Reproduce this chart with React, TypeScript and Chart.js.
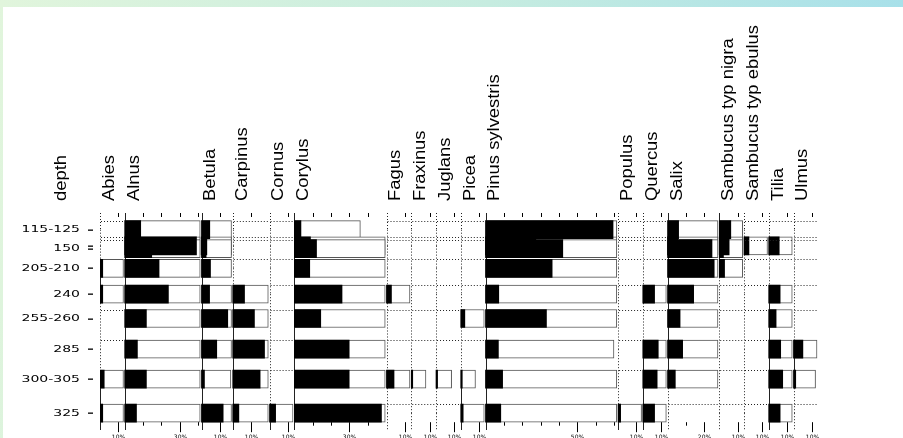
import React, { useEffect, useRef } from "react";
import { Chart, registerables } from "chart.js";
Chart.register(...registerables);

// ---- data ----
// samples (top to bottom); the unlabeled one overlaps the "150" sample
const sampleLabels = ["115-125", "", "150", "205-210", "240", "255-260", "285", "300-305", "325"];
// position of each sample along the core axis (diagram units, 0 = top of diagram)
const samplePos = [16.7, 32.8, 35.6, 55.3, 81.2, 105.5, 136.2, 166.2, 200.2];
const axisLength = 218;

const taxa = [
  "Abies", "Alnus", "Betula", "Carpinus", "Cornus", "Corylus", "Fagus", "Fraxinus", "Juglans",
  "Picea", "Pinus sylvestris", "Populus", "Quercus", "Salix", "Sambucus typ nigra",
  "Sambucus typ ebulus", "Tilia", "Ulmus",
];

// percentages per sample (same order as sampleLabels)
const abies = [0, 0, 0, 1.5, 1.5, 0, 0, 2.3, 1.5];
const alnus = [8.7, 39.1, 14.7, 18.7, 23.8, 11.8, 6.9, 11.8, 6.4];
const betula = [4.5, 2.9, 2.5, 4.9, 4.4, 14.3, 8.3, 1.6, 11.8];
const carpinus = [0, 0, 0, 0, 6.4, 11.8, 17.3, 14.9, 3.3];
const cornus = [0, 0, 0, 0, 0, 0, 0, 0, 3.3];
const corylus = [3.6, 8.8, 12.1, 8.4, 26.0, 14.4, 29.9, 29.9, 47.5];
const fagus = [0, 0, 0, 0, 2.7, 0, 0, 4.1, 0];
const fraxinus = [0, 0, 0, 0, 0, 0, 0, 0.8, 0];
const juglans = [0, 0, 0, 0, 0, 0, 0, 0.85, 0];
const picea = [0, 0, 0, 0, 0, 2.2, 0, 0.8, 1.3];
const pinus = [69.5, 27.4, 42.1, 36.3, 7.2, 33.2, 7.0, 9.3, 8.3];
const populus = [0, 0, 0, 0, 0, 0, 0, 0, 1.4];
const quercus = [0, 0, 0, 0, 6.4, 0, 8.4, 7.8, 6.4];
const salix = [6.0, 5.5, 24.2, 25.4, 14.2, 6.8, 8.2, 4.2, 0];
const sambucusNigra = [6.3, 5.4, 2.3, 2.9, 0, 0, 0, 0, 0];
const sambucusEbulus = [0, 2.7, 0, 0, 0, 0, 0, 0, 0];
const tilia = [0, 5.7, 0, 0, 6.2, 4.0, 6.5, 7.6, 6.2];
const ulmus = [0, 0, 0, 0, 0, 0, 5.1, 1.2, 0];

const values = [
  abies, alnus, betula, carpinus, cornus, corylus, fagus, fraxinus, juglans,
  picea, pinus, populus, quercus, salix, sambucusNigra, sambucusEbulus, tilia, ulmus,
];

// labelled tick of each column's percentage scale
const scaleLabel = [10, 30, 10, 10, 10, 30, 10, 10, 10, 10, 50, 10, 10, 20, 10, 10, 10, 10];

const exaggeration = 10;
const minColumn = 10.75;
const columnGap = 2.75;

// ---- derived layout of columns (in % units along the x scale) ----
const widths = values.map((v) => Math.max(Math.max(...v), minColumn) + columnGap);
const offsets: number[] = [];
widths.reduce((acc, w) => {
  offsets.push(acc);
  return acc + w;
}, 0);
const totalWidth = widths.reduce((a, b) => a + b, 0);

export default function App() {
  const ref = useRef<HTMLCanvasElement | null>(null);

  useEffect(() => {
    const canvas = ref.current;
    if (!canvas) return;

    const black: any[] = [];
    const white: any[] = [];
    values.forEach((vals, t) => {
      const off = offsets[t];
      vals.forEach((v, i) => {
        if (v > 0) {
          white.push({ x: [off, off + Math.min(v * exaggeration, widths[t] - 0.7)], y: samplePos[i] });
          black.push({ x: [off, off + v], y: samplePos[i] });
        }
      });
    });

    const BAR = 18;

    const decor = {
      id: "pollenDecor",
      beforeDatasetsDraw(chart: any) {
        const { ctx, chartArea } = chart;
        const xs = chart.scales.x;
        const yS = chart.scales.y;
        const ys = samplePos.map((p) => yS.getPixelForValue(p));
        const order = ys.map((_, i) => i).sort((a, b) => ys[a] - ys[b]);
        const lineBottom = chartArea.bottom - 1;
        ctx.save();
        ctx.strokeStyle = "#222";
        ctx.lineWidth = 1;
        values.forEach((vals, t) => {
          const x = Math.round(xs.getPixelForValue(offsets[t])) + 0.5;
          const stops: { y: number; p: boolean | null }[] = [
            { y: chartArea.top, p: null },
            ...order.map((i) => ({ y: ys[i], p: vals[i] > 0 })),
            { y: lineBottom, p: null },
          ];
          for (let k = 0; k < stops.length - 1; k++) {
            const a = stops[k];
            const b = stops[k + 1];
            const pa = a.p === null ? b.p : a.p;
            const pb = b.p === null ? a.p : b.p;
            const solid = !!(pa && pb);
            ctx.setLineDash(solid ? [] : [1, 2]);
            ctx.beginPath();
            ctx.moveTo(x, a.y);
            ctx.lineTo(x, b.y);
            ctx.stroke();
          }
        });
        ctx.restore();
      },
      afterDatasetsDraw(chart: any) {
        const { ctx, chartArea } = chart;
        const xs = chart.scales.x;
        const yS = chart.scales.y;
        ctx.save();
        // zero values: dotted line at sample top
        ctx.strokeStyle = "#222";
        ctx.lineWidth = 1;
        ctx.setLineDash([1, 2]);
        values.forEach((vals, t) => {
          const x0 = xs.getPixelForValue(offsets[t]) + 1;
          const x1 = xs.getPixelForValue(offsets[t] + widths[t]) - 1;
          vals.forEach((v, i) => {
            if (v > 0) return;
            const y = Math.round(yS.getPixelForValue(samplePos[i]) - BAR / 2) + 0.5;
            ctx.beginPath();
            ctx.moveTo(x0, y);
            ctx.lineTo(x1, y);
            ctx.stroke();
          });
        });
        ctx.setLineDash([]);

        // ticks top & bottom
        const barsBottom = yS.getPixelForValue(samplePos[samplePos.length - 1]) + BAR / 2;
        ctx.strokeStyle = "#000";
        values.forEach((vals, t) => {
          for (let p = 10; p < widths[t] - 1; p += 10) {
            const x = Math.round(xs.getPixelForValue(offsets[t] + p)) + 0.5;
            ctx.beginPath();
            ctx.moveTo(x, chartArea.top);
            ctx.lineTo(x, chartArea.top + 4);
            ctx.stroke();
            const major = p === scaleLabel[t];
            ctx.beginPath();
            ctx.moveTo(x, barsBottom);
            ctx.lineTo(x, barsBottom + (major ? 10 : 3.5));
            ctx.stroke();
            if (major) {
              ctx.fillStyle = "#000";
              ctx.font = '6px "DejaVu Sans"';
              ctx.textAlign = "center";
              ctx.textBaseline = "top";
              ctx.fillText(p + "%", x, barsBottom + 12);
            }
          }
        });

        // depth labels and their dashes
        ctx.fillStyle = "#000";
        samplePos.forEach((p, i) => {
          const y = yS.getPixelForValue(p);
          ctx.fillRect(chartArea.left - 12, Math.round(y) - 0.5, 5, 1.3);
          if (sampleLabels[i]) {
            ctx.save();
            ctx.translate(chartArea.left - 20, y + 0.5);
            ctx.scale(1.75, 1);
            ctx.font = '8px "DejaVu Sans"';
            ctx.textAlign = "right";
            ctx.textBaseline = "middle";
            ctx.fillText(sampleLabels[i], 0, 0);
            ctx.restore();
          }
        });

        // rotated headers
        const header = (text: string, x: number) => {
          ctx.save();
          ctx.translate(x, chartArea.top - 12);
          ctx.rotate(-Math.PI / 2);
          ctx.scale(1.15, 1);
          ctx.font = '16px "Liberation Sans"';
          ctx.textAlign = "left";
          ctx.textBaseline = "middle";
          ctx.fillStyle = "#000";
          ctx.fillText(text, 0, 0);
          ctx.restore();
        };
        header("depth", chartArea.left - 38);
        taxa.forEach((name, t) => header(name, xs.getPixelForValue(offsets[t]) + 9.5));
        ctx.restore();
      },
    };

    const chart = new Chart(canvas, {
      type: "bar",
      data: {
        datasets: [
          {
            label: "percent",
            data: black,
            backgroundColor: "#000",
            borderWidth: 0,
            grouped: false,
            barThickness: BAR,
            order: 0,
          } as any,
          {
            label: "exaggerated x10",
            data: white,
            backgroundColor: "#fff",
            borderColor: "#555",
            borderWidth: 1,
            borderSkipped: false,
            grouped: false,
            barThickness: BAR,
            order: 1,
          } as any,
        ],
      },
      options: {
        indexAxis: "y",
        animation: false,
        responsive: false,
        maintainAspectRatio: false,
        devicePixelRatio: 1,
        layout: { padding: { left: 100, right: 84.7, top: 213, bottom: 7 } },
        scales: {
          x: { type: "linear", min: 0, max: totalWidth, display: false, offset: false },
          y: { type: "linear", min: 0, max: axisLength, reverse: true, display: false, offset: false },
        },
        plugins: { legend: { display: false }, tooltip: { enabled: false } },
      } as any,
      plugins: [decor],
    });
    return () => chart.destroy();
  }, []);

  return (
    <div
      style={{
        position: "fixed",
        left: 0,
        top: 0,
        width: 903,
        height: 438,
        overflow: "hidden",
        background: "linear-gradient(100deg, #e1f5dc 0%, #c6ece0 50%, #a2deeb 100%)",
      }}
    >
      <div style={{ position: "absolute", left: 3, top: 7, right: 0, bottom: 0, background: "#fff" }} />
      <canvas
        ref={ref}
        width={903}
        height={438}
        style={{ position: "absolute", left: 0, top: 0, width: 903, height: 438 }}
      />
    </div>
  );
}
